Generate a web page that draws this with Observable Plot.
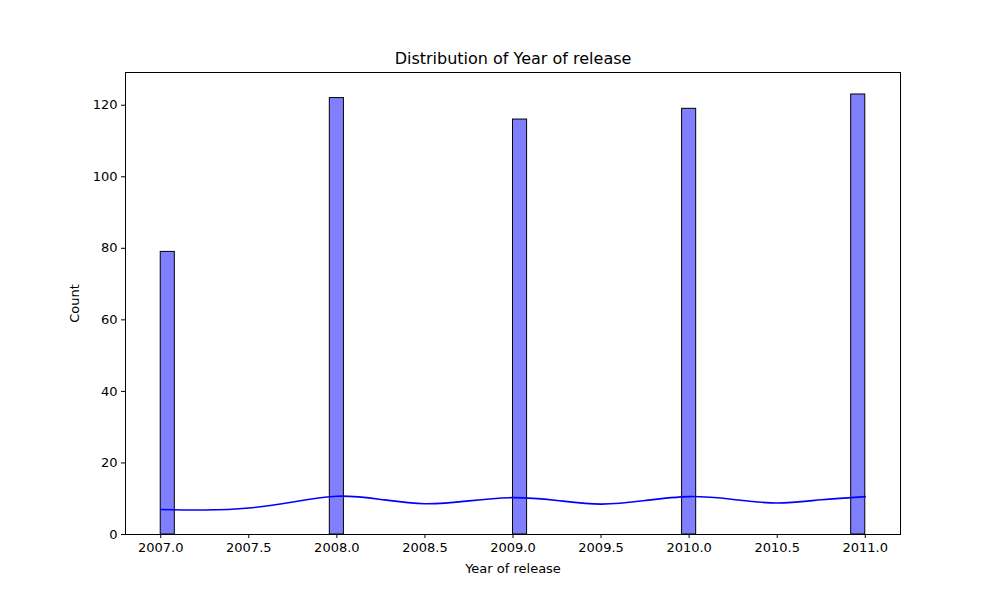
<!DOCTYPE html>
<html>
<head>
<meta charset="utf-8">
<script src="https://cdn.jsdelivr.net/npm/d3@7"></script>
<script src="https://cdn.jsdelivr.net/npm/@observablehq/plot@0.6"></script>
<style>
  body { margin: 0; background: #fff; }
</style>
</head>
<body>
<div id="chart"></div>
<script>
// histogram counts per release year
const years = [2007, 2008, 2009, 2010, 2011];
const counts = [79, 122, 116, 119, 123];

// kde curve (count scale)
const kdeX = [2007.0, 2007.25, 2007.5, 2007.75, 2008.0, 2008.25, 2008.5, 2008.75, 2009.0,
              2009.25, 2009.5, 2009.75, 2010.0, 2010.25, 2010.5, 2010.75, 2011.0];
const kdeY = [7.0, 6.85, 7.4, 9.1, 10.7, 9.8, 8.6, 9.4, 10.3,
              9.5, 8.5, 9.5, 10.6, 9.8, 8.8, 9.7, 10.6];

const xTicks = [2007.0, 2007.5, 2008.0, 2008.5, 2009.0, 2009.5, 2010.0, 2010.5, 2011.0];
const yTicks = [0, 20, 40, 60, 80, 100, 120];

// seaborn used 50 bins over [2007, 2011]
const nBins = 50, lo = 2007, hi = 2011;
const bw = (hi - lo) / nBins;
const bars = years.map((y, i) => {
  const k = Math.min(nBins - 1, Math.floor((y - lo) * nBins / (hi - lo)));
  return {x1: lo + k * bw, x2: lo + (k + 1) * bw, count: counts[i]};
});
const kde = kdeX.map((x, i) => ({x, y: kdeY[i]}));

const chart = Plot.plot({
  width: 1000,
  height: 600,
  marginLeft: 125,
  marginRight: 100,
  marginTop: 72,
  marginBottom: 66,
  style: {fontFamily: "DejaVu Sans", fontSize: "13px", background: "#fff", color: "#000"},
  x: {domain: [2006.8, 2011.2]},
  y: {domain: [0, 129.15]},
  marks: [
    Plot.rect(bars, {x1: "x1", x2: "x2", y1: 0, y2: "count", fill: "#8080ff", stroke: "#000", strokeWidth: 1}),
    Plot.line(kde, {x: "x", y: "y", stroke: "#0000ff", strokeWidth: 1.6, curve: "natural"}),
    Plot.frame({stroke: "#000", strokeWidth: 1}),
    Plot.axisX({ticks: xTicks, tickFormat: d3.format(".1f"), tickSize: 4, tickPadding: 4,
      label: "Year of release", labelAnchor: "center", labelArrow: "none", labelOffset: 38}),
    Plot.axisY({ticks: yTicks, tickSize: 4, tickPadding: 4,
      label: "Count", labelAnchor: "center", labelArrow: "none", labelOffset: 56}),
    Plot.text(["Distribution of Year of release"], {frameAnchor: "top", dy: -20, fontSize: 16, fill: "#000"})
  ]
});
document.getElementById("chart").append(chart);
</script>
</body>
</html>
